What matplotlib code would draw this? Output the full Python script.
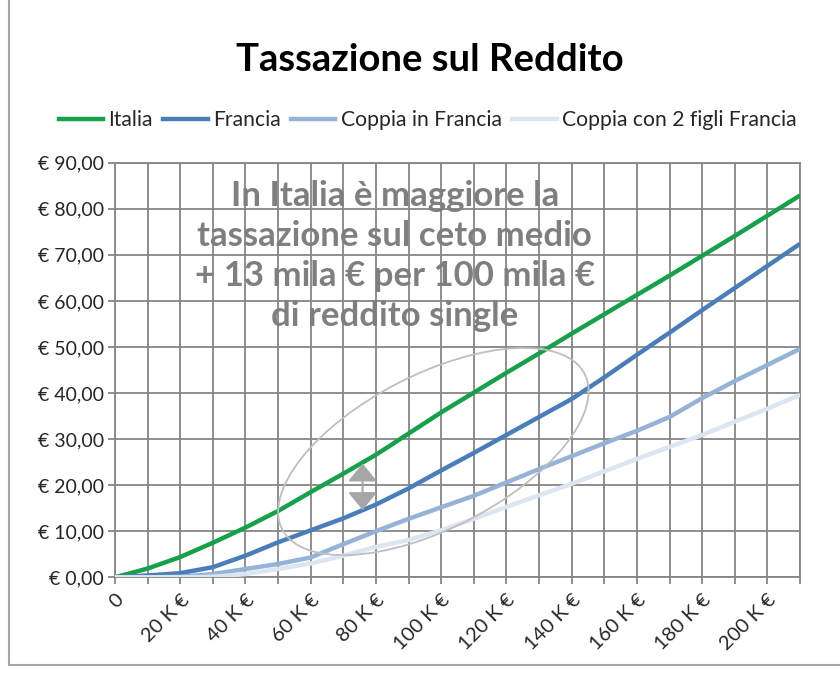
import matplotlib
matplotlib.use("Agg")
import matplotlib.pyplot as plt
from matplotlib.patches import Ellipse, FancyArrowPatch
from matplotlib.lines import Line2D

plt.rcParams['font.family'] = ['Lato', 'DejaVu Sans']

# Reddito (K€)
reddito = [0, 10, 20, 30, 40, 50, 60, 70, 80, 90, 100, 110, 120, 130, 140, 150,
           160, 170, 180, 190, 200, 210]
italia = [0, 1.9, 4.4, 7.5, 10.8, 14.4, 18.5, 22.5, 26.6, 31.2, 35.8, 40.1, 44.4,
          48.6, 52.9, 57.1, 61.3, 65.5, 69.8, 74.1, 78.5, 82.9]
francia = [0, 0.4, 0.9, 2.2, 4.7, 7.6, 10.2, 12.8, 15.8, 19.3, 23.2, 27.0, 30.9,
           34.8, 38.7, 43.4, 48.3, 53.1, 58.0, 62.8, 67.6, 72.4]
coppia = [0, 0, 0.1, 0.7, 1.8, 2.9, 4.3, 7.2, 10.0, 12.7, 15.2, 17.7, 20.6, 23.5,
          26.3, 29.1, 31.8, 34.8, 38.9, 42.6, 46.1, 49.6]
coppia_figli = [0, 0, 0, 0.1, 0.7, 1.8, 3.0, 4.7, 6.6, 8.1, 10.2, 12.7, 15.3, 17.8,
                20.3, 23.0, 25.7, 28.3, 30.9, 33.8, 36.6, 39.6]

series_names = ["Italia", "Francia", "Coppia in Francia", "Coppia con 2 figli Francia"]
colors = ["#14A14A", "#4A7EBB", "#95B3D7", "#DCE6F2"]

x_ticks = list(range(0, 211, 10))
x_labels = ["0" if v == 0 else (f"{v} K €" if v % 20 == 0 else "") for v in x_ticks]
y_ticks = list(range(0, 91, 10))
y_labels = [f"€ {v},00" for v in y_ticks]

title = "Tassazione sul Reddito"
note = "In Italia è maggiore la\ntassazione sul ceto medio\n+ 13 mila € per 100 mila €\ndi reddito single"

fig = plt.figure(figsize=(8.4, 6.73), dpi=100)
ax = fig.add_axes([0.1369, 0.1422, 0.8155, 0.616])

grid_c = "#868686"
ax.set_xlim(0, 210)
ax.set_ylim(0, 90)
ax.set_xticks(x_ticks)
ax.set_xticklabels(x_labels, rotation=45, ha="right", va="top",
                   rotation_mode="anchor", fontsize=14.5, color="#262626")
ax.set_yticks(y_ticks)
ax.set_yticklabels(y_labels, fontsize=14, color="#262626")
ax.grid(True, color=grid_c, lw=1.3)
ax.set_axisbelow(True)
ax.tick_params(axis="both", color=grid_c, width=1.3, length=5, direction="out")
ax.tick_params(axis="x", pad=5)
ax.tick_params(axis="y", pad=3)
for s in ax.spines.values():
    s.set_color(grid_c)
    s.set_linewidth(1.3)

for vals, c, n in zip([italia, francia, coppia, coppia_figli], colors, series_names):
    ax.plot(reddito, vals, color=c, lw=3.2, label=n, solid_capstyle="butt", zorder=3)

# ellipse (in display pixels, centred on data point)
cx, cy = ax.transData.transform((97.6, 27.3))
ell = Ellipse((cx, cy), width=2 * 170, height=2 * 77, angle=27.2,
              transform=None, fill=False, edgecolor="#BFBFBF", lw=1.3, zorder=4)
fig.patches.append(ell)
ell.set_figure(fig)

# double arrow
arr = FancyArrowPatch((75.9, 24.7), (75.9, 14.6),
                      arrowstyle="<|-|>,head_length=0.55,head_width=0.45",
                      mutation_scale=20, color="#A6A6A6", lw=1.5, zorder=5,
                      shrinkA=0, shrinkB=0)
ax.add_patch(arr)

# annotation
fig.text(0.470, 0.6196, note, ha="center", va="center", fontsize=25,
         fontweight="bold", color="#7F7F7F", linespacing=1.3, zorder=6)

# title
fig.text(0.512, 0.911, title, ha="center", va="center", fontsize=27.5,
         fontweight="bold", color="#000000")

# legend
handles = [Line2D([], [], color=c, lw=3.2) for c in colors]
fig.legend(handles, series_names, loc="center", bbox_to_anchor=(0.509, 0.8217),
           ncol=4, frameon=False, fontsize=15.2, handlelength=2.1,
           handletextpad=0.25, columnspacing=0.5, labelcolor="#262626")

# chart border (left and bottom)
fig.add_artist(Line2D([0.011, 0.011], [0.012, 1.0], color="#A6A6A6", lw=1.5,
                      transform=fig.transFigure))
fig.add_artist(Line2D([0.011, 1.0], [0.012, 0.012], color="#A6A6A6", lw=1.5,
                      transform=fig.transFigure))

fig.savefig("out.png", dpi=100)
